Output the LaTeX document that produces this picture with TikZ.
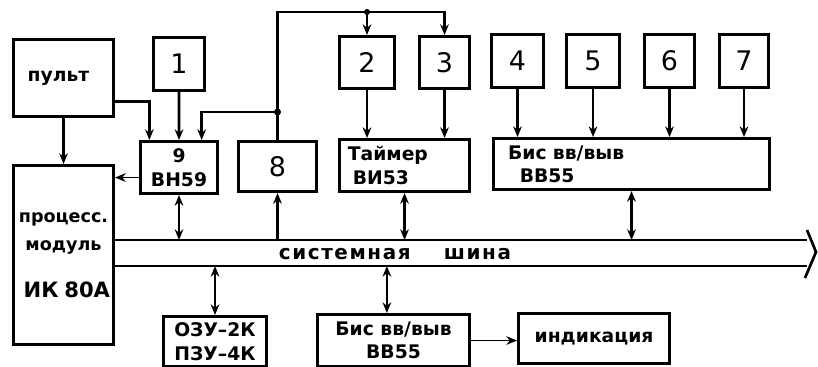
\documentclass[tikz,border=0pt]{standalone}
\usepackage{fontspec}
\setmainfont{DejaVu Sans}
\usepackage{tikz}
\usetikzlibrary{arrows.meta}

\begin{document}
\begin{tikzpicture}[x=0.3mm,y=-0.3mm,>={Stealth[length=3.2mm,width=2.6mm]},
  blk/.style={draw,line width=2.6pt,anchor=north west,inner sep=0pt,align=center,
    font=\bfseries\fontsize{16}{20}\selectfont},
  dig/.style={blk,font=\fontsize{23}{24}\selectfont},
  con/.style={line width=2.3pt},
  thin con/.style={line width=1.4pt}]
\useasboundingbox (0,0) rectangle (818,367);
% upper row
\node[blk,minimum width=30mm,minimum height=23.1mm] (pult) at (12,38) {пульт\hspace*{3mm}};
\node[dig,minimum width=15.3mm,minimum height=15.9mm] (b1) at (152,36) {1};
\node[dig,minimum width=16.5mm,minimum height=15.6mm] (b2) at (338,35) {2};
\node[dig,minimum width=15mm,minimum height=15.6mm] (b3) at (418,35) {3};
\node[dig,minimum width=15.6mm,minimum height=15.9mm] (b4) at (490,33) {4};
\node[dig,minimum width=15.9mm,minimum height=15.9mm] (b5) at (565,33) {5};
\node[dig,minimum width=15mm,minimum height=15.9mm] (b6) at (643,33) {6};
\node[dig,minimum width=14.7mm,minimum height=15.9mm] (b7) at (718,33) {7};
% middle row
\node[blk,minimum width=23.1mm,minimum height=15.6mm] (b9) at (139,140) {9\\ВН59};
\node[dig,minimum width=23.4mm,minimum height=15mm] (b8) at (237,140) {8};
\node[blk,align=left,text width=34mm,inner xsep=2.5mm,minimum height=15.6mm] (timer) at (338,138)
  {Таймер\\\hspace*{1.5mm}ВИ53};
\node[blk,align=left,text width=74mm,inner xsep=4.4mm,minimum height=15.3mm] (bisA) at (492,137)
  {Бис вв/выв\\\hspace*{3.5mm}ВВ55};
\node[blk,text width=30mm,minimum height=53.7mm,font=\bfseries\fontsize{15}{20}\selectfont] (proc) at (12,164)
  {процесс.\\[1.5mm]модуль\\[7mm]\hspace*{2mm}\mbox{\fontsize{18}{20}\selectfont ИК 80А}};
% lower row
\node[blk,minimum width=30.9mm,minimum height=15mm] (ozu) at (162,315) {ОЗУ–2К\\ПЗУ–4К};
\node[blk,minimum width=45.6mm,minimum height=15.6mm] (bisB) at (316,313) {Бис вв/выв\\ВВ55};
\node[blk,minimum width=45.3mm,minimum height=15mm] (ind) at (517,312) {индикация};
% system bus
\coordinate (busT) at (112,240);
\coordinate (busB) at (112,266);
\draw[con] (busT) -- (807,240) (busB) -- (807,266);
\draw[con] (807,230) -- (816,252) -- (805,278);
\node[font=\bfseries\fontsize{17}{20}\selectfont\addfontfeature{LetterSpace=8}] (bus) at (395,254)
  {системная\hspace{10mm}шина};
% inputs
\draw[con,->] (pult.south) -- (pult.south |- proc.north);
\draw[con,->] ([yshift=-7mm]pult.east) -| ([xshift=-8.9mm]b9.north);
\draw[con,->] (b1.south) -- (b9.north);
\draw[thin con,->] ([yshift=-3mm]b9.west) -- ([yshift=-3mm]b9.west -| proc.east);
\foreach \i in {2,3} \draw[con,->] (b\i.south) -- (b\i.south |- timer.north);
\foreach \i in {4,...,7} \draw[con,->] (b\i.south) -- (b\i.south |- bisA.north);
% feedback from 8
\coordinate (top) at (0,12);
\coordinate (tap) at (0,112);
\draw[con,->] (b8.north) -- (b8.north |- top) -| (b3.north);
\draw[con,->] (b2.north |- top) -- (b2.north);
\draw[con,->] (b8.north |- tap) -| ([xshift=6.8mm]b9.north);
\fill (b8.north |- tap) circle (3pt);
\fill (b2.north |- top) circle (2.6pt);
% bus links
\draw[con,<->] (b9.south) -- (b9.south |- busT);
\draw[con,->] (b8.south |- busT) -- (b8.south);
\draw[con,<->] (timer.south) -- (timer.south |- busT);
\draw[con,<->] (bisA.south) -- (bisA.south |- busT);
\draw[con,<->] (ozu.north) -- (ozu.north |- busB);
\draw[con,<->] ([xshift=-2mm]bisB.north) -- ([xshift=-2mm]bisB.north |- busB);
\draw[thin con,->] (bisB.east) -- (bisB.east -| ind.west);
\end{tikzpicture}
\end{document}
